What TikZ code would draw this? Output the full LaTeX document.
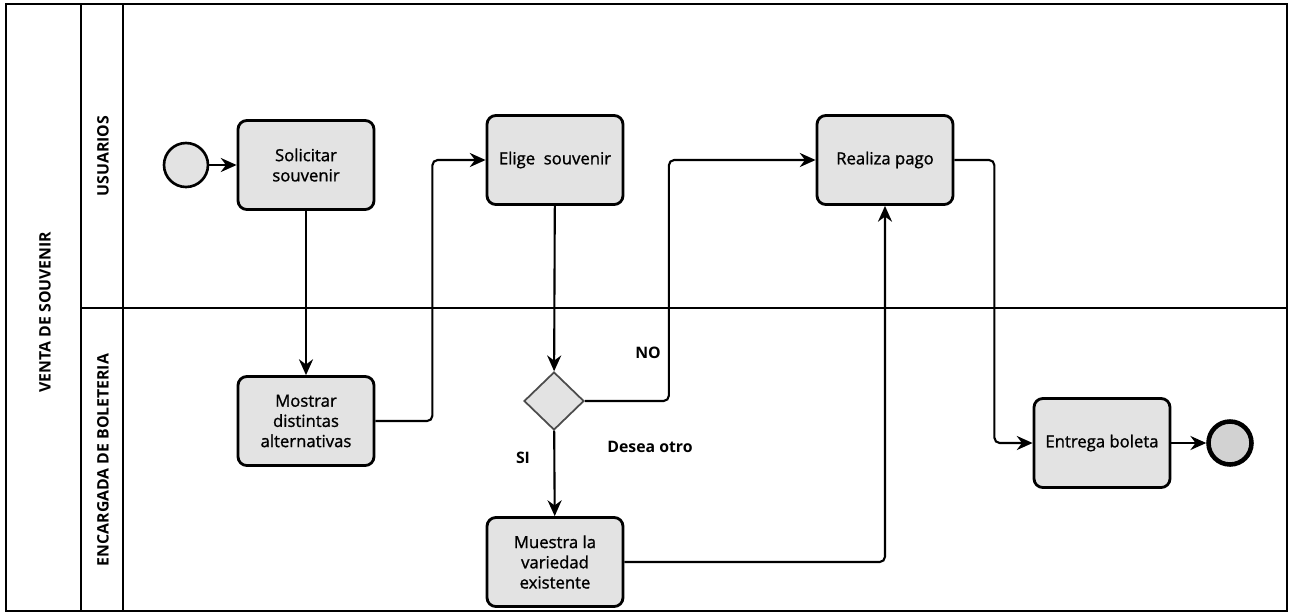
\documentclass[tikz,border=0pt]{standalone}
\usepackage{fontspec}
\setmainfont{Open Sans}
\newfontfamily\taskfont[FakeBold=1.2]{Open Sans}
\usetikzlibrary{shapes.geometric,arrows.meta}
\begin{document}
\begin{tikzpicture}[x=0.02cm,y=-0.02cm,
  task/.style={draw=black,line width=1.6pt,fill=gray!22,rounded corners=5pt,
    minimum width=2.72cm,minimum height=1.78cm,align=center,font=\taskfont\fontsize{9.5}{11.5}\selectfont,inner sep=2pt},
  startev/.style={circle,draw=black,line width=1.5pt,fill=gray!22,minimum size=0.88cm,inner sep=0pt},
  endev/.style={circle,draw=black,line width=2.6pt,fill=gray!35,minimum size=0.86cm,inner sep=0pt},
  gate/.style={diamond,draw=black!70,line width=1pt,fill=gray!22,minimum width=1.2cm,minimum height=1.16cm,inner sep=0pt},
  flow/.style={draw=black,line width=1.2pt,rounded corners=3pt,-{Stealth[length=9pt,width=8pt]}},
  frame/.style={draw=black,line width=1.3pt},
  lanelabel/.style={font=\bfseries\fontsize{9}{11}\selectfont,rotate=90},
  cond/.style={font=\bfseries\fontsize{9}{11}\selectfont}
]
\useasboundingbox (0,0) rectangle (1296,613);
% frame and lanes
\draw[frame] (6,4) rectangle (1287,611);
\draw[frame] (81,4) -- (81,611);
\draw[frame] (123,4) -- (123,611);
\draw[frame] (81,308) -- (1287,308);
\node[lanelabel] (pool) at (45,312) {VENTA DE SOUVENIR};
\node[lanelabel] (l1) at (103,156) {USUARIOS};
\node[lanelabel] (l2) at (103,460) {ENCARGADA DE BOLETERIA};
% nodes
\node[startev] (start) at (186,165) {};
\node[task] (sol) at (306,165) {Solicitar\\souvenir};
\node[task] (mos) at (306,421) {Mostrar\\distintas\\alternativas};
\node[task] (eli) at (555,160) {Elige\ \ souvenir};
\node[gate] (dec) at (554,401) {};
\node[task] (mue) at (555,562) {Muestra la\\variedad\\existente};
\node[task] (rea) at (885,160) {Realiza pago};
\node[task] (ent) at (1102,443) {Entrega boleta};
\node[endev] (fin) at (1230,443) {};
% labels
\node[cond] (no) at (648,353) {NO};
\node[cond] (si) at (523,458) {SI};
\node[cond] (desea) at (650,447) {Desea otro};
% flows
\draw[flow] (start) -- (sol);
\draw[flow] (sol) -- (mos);
\draw[flow] (mos.east) -- ++(57,0) |- (eli.west);
\draw[flow] (eli) -- (dec);
\draw[flow] (dec.east) -- ++(84,0) |- (rea.west);
\draw[flow] (dec) -- (mue);
\draw[flow] (mue.east) -| (rea.south);
\draw[flow] (rea.east) -- ++(40,0) |- (ent.west);
\draw[flow] (ent) -- (fin);
\end{tikzpicture}
\end{document}
